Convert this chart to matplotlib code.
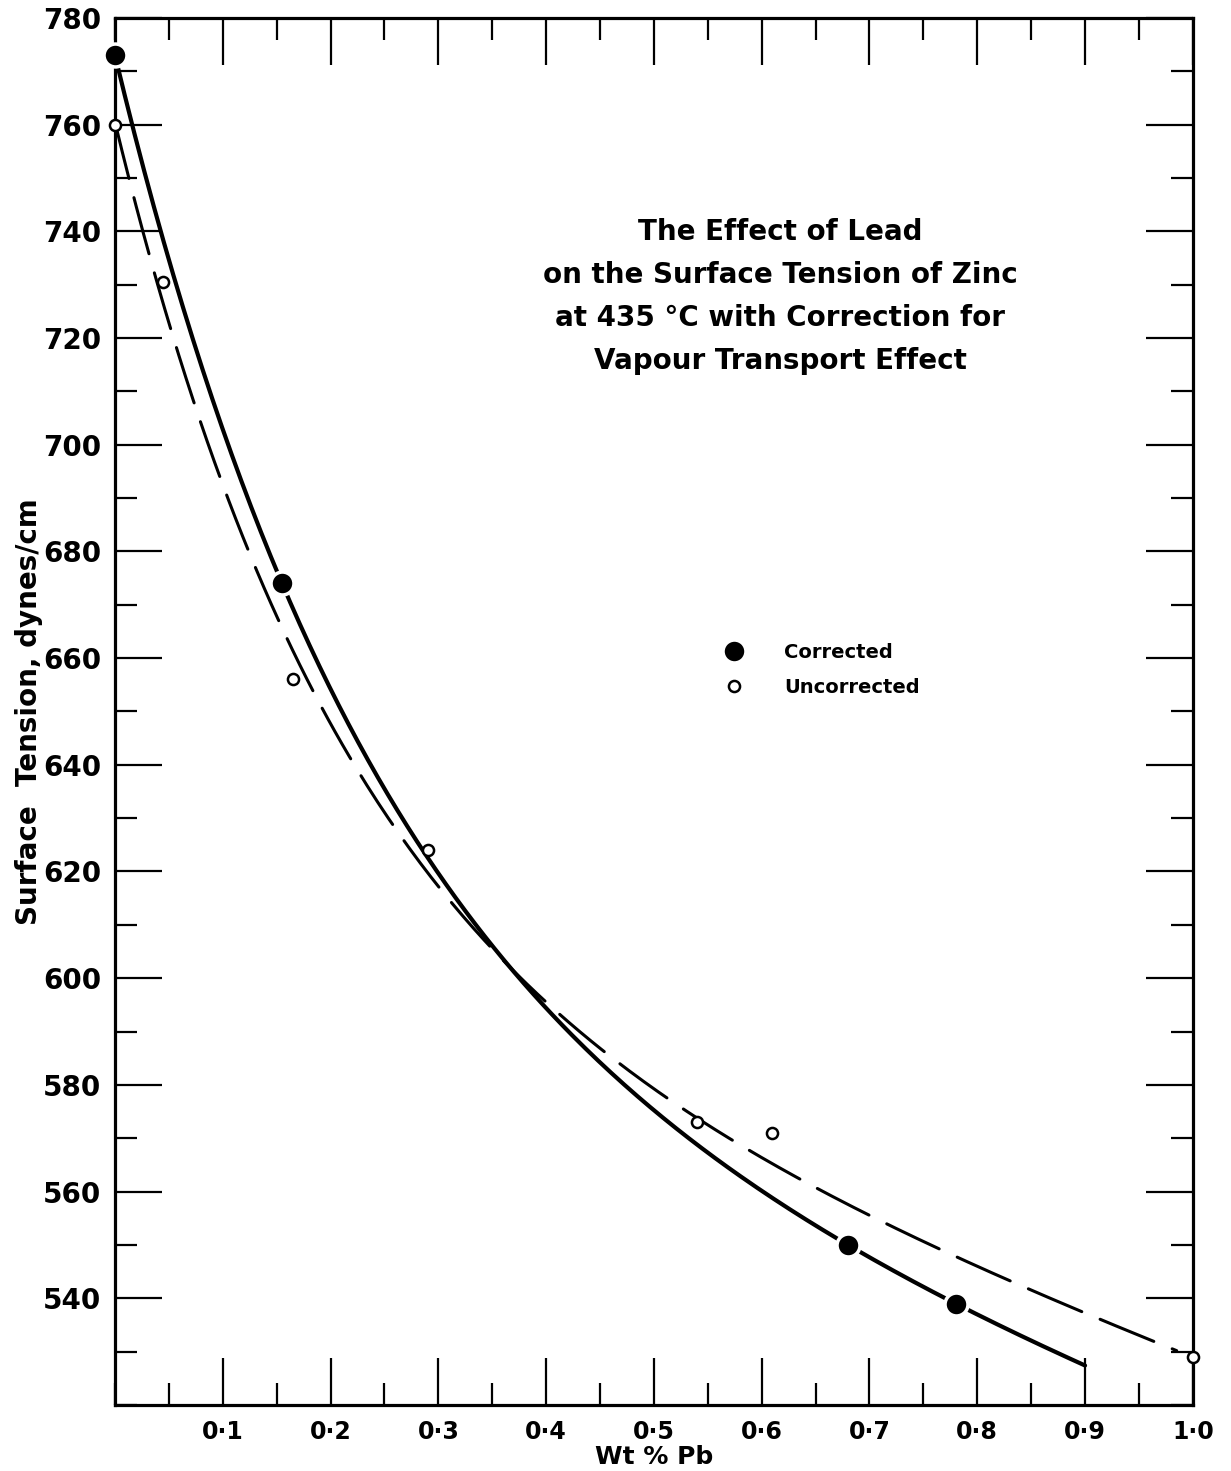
import numpy as np
import matplotlib
matplotlib.use("Agg")
import matplotlib.pyplot as plt
from matplotlib.ticker import MultipleLocator, FixedLocator

# data
wt_corr = [0.0, 0.155, 0.68, 0.78]
st_corr = [773, 674, 550, 539]
wt_unc = [0.0, 0.045, 0.165, 0.29, 0.54, 0.61, 1.0]
st_unc = [760, 730.5, 656, 624, 573, 571, 529]

xtick_vals = [0.1, 0.2, 0.3, 0.4, 0.5, 0.6, 0.7, 0.8, 0.9, 1.0]
xtick_labels = ["0·1", "0·2", "0·3", "0·4", "0·5", "0·6", "0·7", "0·8", "0·9", "1·0"]
ytick_vals = list(range(540, 781, 20))

title = ("The Effect of Lead\non the Surface Tension of Zinc\n"
         "at 435 °C with Correction for\nVapour Transport Effect")


def fit_curve(x, y, w=None):
    # y = a + b*exp(-c*x) + d*x, grid search on c, weighted least squares for the rest
    x = np.asarray(x, float)
    y = np.asarray(y, float)
    sw = np.sqrt(np.ones_like(x) if w is None else np.asarray(w, float))
    best = None
    for c in np.linspace(1.0, 12, 1101):
        A = np.column_stack([np.ones_like(x), np.exp(-c * x), x])
        coef = np.linalg.lstsq(A * sw[:, None], y * sw, rcond=None)[0]
        err = np.sum(((A @ coef - y) * sw) ** 2)
        if best is None or err < best[0]:
            best = (err, coef, c)
    _, coef, c = best
    return lambda t: coef[0] + coef[1] * np.exp(-c * t) + coef[2] * t


plt.rcParams['font.family'] = ['DejaVu Sans']

fig = plt.figure(figsize=(12.31, 14.71), dpi=100)
ax = fig.add_axes([0.0934, 0.0449, 0.8756, 0.9429])

f_corr = fit_curve(wt_corr, st_corr)
f_unc = fit_curve(wt_unc, st_unc, w=[4, 1, 1, 1, 2, 0.05, 4])
xs1 = np.linspace(0, 0.9, 300)
xs2 = np.linspace(0, 0.985, 300)
ax.plot(xs1, f_corr(xs1), color='black', lw=3.0, solid_capstyle='round')
ax.plot(xs2, f_unc(xs2), color='black', lw=2.2,
        linestyle=(0, (19, 6.5)), dash_capstyle='round')

ax.plot(wt_corr, st_corr, 'o', color='black', ms=16.5, mec='white', mew=2.5,
        label='Corrected', zorder=5, clip_on=False)
ax.plot(wt_unc, st_unc, 'o', mfc='white', mec='black', ms=8, mew=1.8,
        label='Uncorrected', zorder=5, clip_on=False)

ax.set_xlim(0, 1.0)
ax.set_ylim(520, 780)

ax.xaxis.set_major_locator(FixedLocator(xtick_vals))
ax.set_xticklabels(xtick_labels)
ax.xaxis.set_minor_locator(MultipleLocator(0.05))
ax.yaxis.set_major_locator(FixedLocator(ytick_vals))
ax.yaxis.set_minor_locator(MultipleLocator(10))

ax.tick_params(which='both', direction='in', top=True, right=True,
               width=1.6, color='black')
ax.tick_params(which='major', length=34)
ax.tick_params(which='minor', length=16)
ax.tick_params(axis='x', pad=11, labelsize=17)
ax.tick_params(axis='y', pad=10, labelsize=20)
for lab in ax.get_xticklabels() + ax.get_yticklabels():
    lab.set_fontweight('bold')

for sp in ax.spines.values():
    sp.set_linewidth(2.3)

ax.set_xlabel("Wt % Pb", fontsize=18, fontweight='bold', va='baseline')
ax.xaxis.set_label_coords(0.5, -0.0425)
ax.set_ylabel("Surface  Tension, dynes/cm", fontsize=20, fontweight='bold',
              labelpad=0)

ax.text(0.617, 0.856, title, transform=ax.transAxes, ha='center', va='top',
        fontsize=20, fontweight='bold', linespacing=1.68)

leg = ax.legend(loc='upper left', bbox_to_anchor=(0.545, 0.562), frameon=False,
                fontsize=14, handletextpad=1.8, handlelength=1.5,
                labelspacing=0.8)
for t in leg.get_texts():
    t.set_fontweight('bold')

fig.savefig("out.png", dpi=100)
